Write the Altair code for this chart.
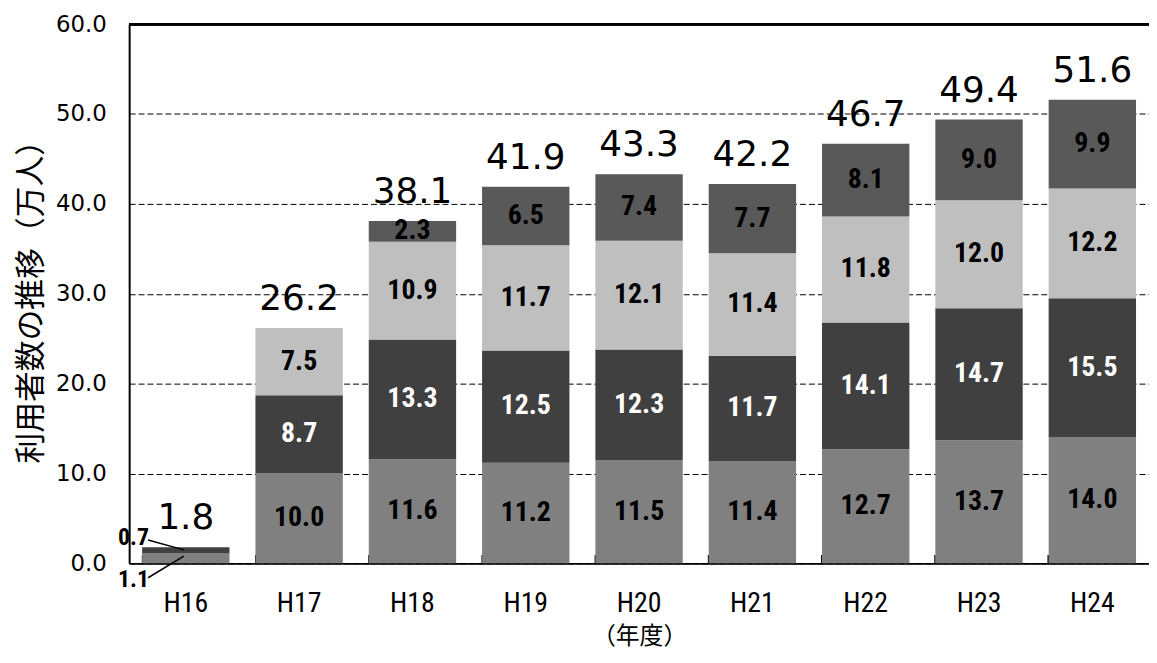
import altair as alt
import pandas as pd

years = ["H16", "H17", "H18", "H19", "H20", "H21", "H22", "H23", "H24"]
s1 = [1.1, 10.0, 11.6, 11.2, 11.5, 11.4, 12.7, 13.7, 14.0]
s2 = [0.7, 8.7, 13.3, 12.5, 12.3, 11.7, 14.1, 14.7, 15.5]
s3 = [0.0, 7.5, 10.9, 11.7, 12.1, 11.4, 11.8, 12.0, 12.2]
s4 = [0.0, 0.0, 2.3, 6.5, 7.4, 7.7, 8.1, 9.0, 9.9]
totals = [1.8, 26.2, 38.1, 41.9, 43.3, 42.2, 46.7, 49.4, 51.6]
series_names = ["区分1", "区分2", "区分3", "区分4"]
series_colors = ["#808080", "#404040", "#bfbfbf", "#595959"]
label_colors = ["#000000", "#ffffff", "#000000", "#000000"]

rows = []
for i, y in enumerate(years):
    base = 0.0
    for k, vals in enumerate([s1, s2, s3, s4]):
        v = vals[i]
        if v > 0:
            rows.append({"year": y, "series": series_names[k], "value": v,
                         "y0": base, "y1": base + v, "mid": base + v / 2,
                         "fillc": series_colors[k], "lc": label_colors[k]})
        base += v
df = pd.DataFrame(rows)
tot = pd.DataFrame({"year": years, "total": totals})

NARROW = "Roboto Condensed, DejaVu Sans Condensed, Liberation Sans Narrow, Roboto"
W, H = 1027, 543
P_IN = 0.229
P_OUT = P_IN / 2
TICK_LEN = 9

# x-axis grid used as short inward ticks at the band boundaries:
# the grid line runs top->bottom, so the dash pattern leaves only its last 9px visible
xenc = alt.X("year:N", sort=years,
             scale=alt.Scale(paddingInner=P_IN, paddingOuter=P_OUT),
             axis=alt.Axis(title="（年度）", labelAngle=0, labelFont=NARROW,
                           labelFontSize=28, labelColor="#000", labelPadding=26,
                           titleFont="Noto Sans CJK JP", titleFontSize=24, titleFontWeight="normal",
                           titleColor="#000", titlePadding=8, ticks=False,
                           domainColor="#000", domainWidth=2,
                           grid=True, bandPosition=0, gridColor="#000", gridWidth=1.5,
                           gridDash=[0, H - TICK_LEN, TICK_LEN, 3000]))
yscale = alt.Scale(domain=[0, 60], nice=False)
yaxis = alt.Axis(title="利用者数の推移（万人）", values=[0, 10, 20, 30, 40, 50, 60], format=".1f",
                 labelFont="DejaVu Sans", labelFontSize=23, labelColor="#000", labelPadding=23,
                 ticks=False, domainColor="#000", domainWidth=2,
                 grid=True, gridColor="#000", gridDash=[6, 3], gridWidth=1,
                 titleFont="Noto Sans CJK JP", titleFontSize=31, titleFontWeight="normal",
                 titleColor="#000", titlePadding=8)

base = alt.Chart(df)
bars = base.mark_bar().encode(
    x=xenc,
    y=alt.Y("y0:Q", scale=yscale, axis=yaxis),
    y2="y1:Q",
    color=alt.Color("fillc:N", scale=None),
)
seg_labels = base.transform_filter(alt.datum.year != "H16").mark_text(
    font=NARROW, fontSize=28, fontWeight="bold", baseline="middle"
).encode(
    x=alt.X("year:N", sort=years),
    y=alt.Y("mid:Q"),
    text=alt.Text("value:Q", format=".1f"),
    color=alt.Color("lc:N", scale=None),
)
tot_labels = alt.Chart(tot).mark_text(
    font="DejaVu Sans", fontSize=36, baseline="alphabetic", dy=-18, color="#000"
).encode(
    x=alt.X("year:N", sort=years),
    y=alt.Y("total:Q"),
    text=alt.Text("total:Q", format=".1f"),
)

# H16 small segments labelled outside with leader lines
h16 = df[df["year"] == "H16"].copy()
h16["ly"] = [-1.9, 2.8]
h16["ay"] = [-1.6, 2.6]
h16["by"] = [0.8, 1.5]
h16_text = alt.Chart(h16).mark_text(
    font=NARROW, fontSize=24, fontWeight="bold", baseline="middle",
    align="right", dx=-37, color="#000"
).encode(
    x=alt.X("year:N", sort=years),
    y=alt.Y("ly:Q"),
    text=alt.Text("value:Q", format=".1f"),
)
h16_lines = alt.Chart(h16).mark_rule(color="#000", strokeWidth=1.5, xOffset=-38, x2Offset=-2).encode(
    x=alt.X("year:N", sort=years),
    x2=alt.X2("year:N"),
    y=alt.Y("ay:Q"),
    y2=alt.Y2("by:Q"),
)

top_line = alt.Chart(tot).mark_rule(color="#000", strokeWidth=2).encode(y=alt.datum(60))

chart = alt.layer(bars, seg_labels, tot_labels, h16_lines, h16_text, top_line).properties(
    width=W, height=H,
    autosize=alt.AutoSizeParams(type="none"),
    padding={"left": 122, "top": 14, "right": 0, "bottom": 90},
).configure_view(stroke=None).configure(background="#ffffff")

chart.save("out.html", embed_options={"renderer": "svg", "actions": False})
